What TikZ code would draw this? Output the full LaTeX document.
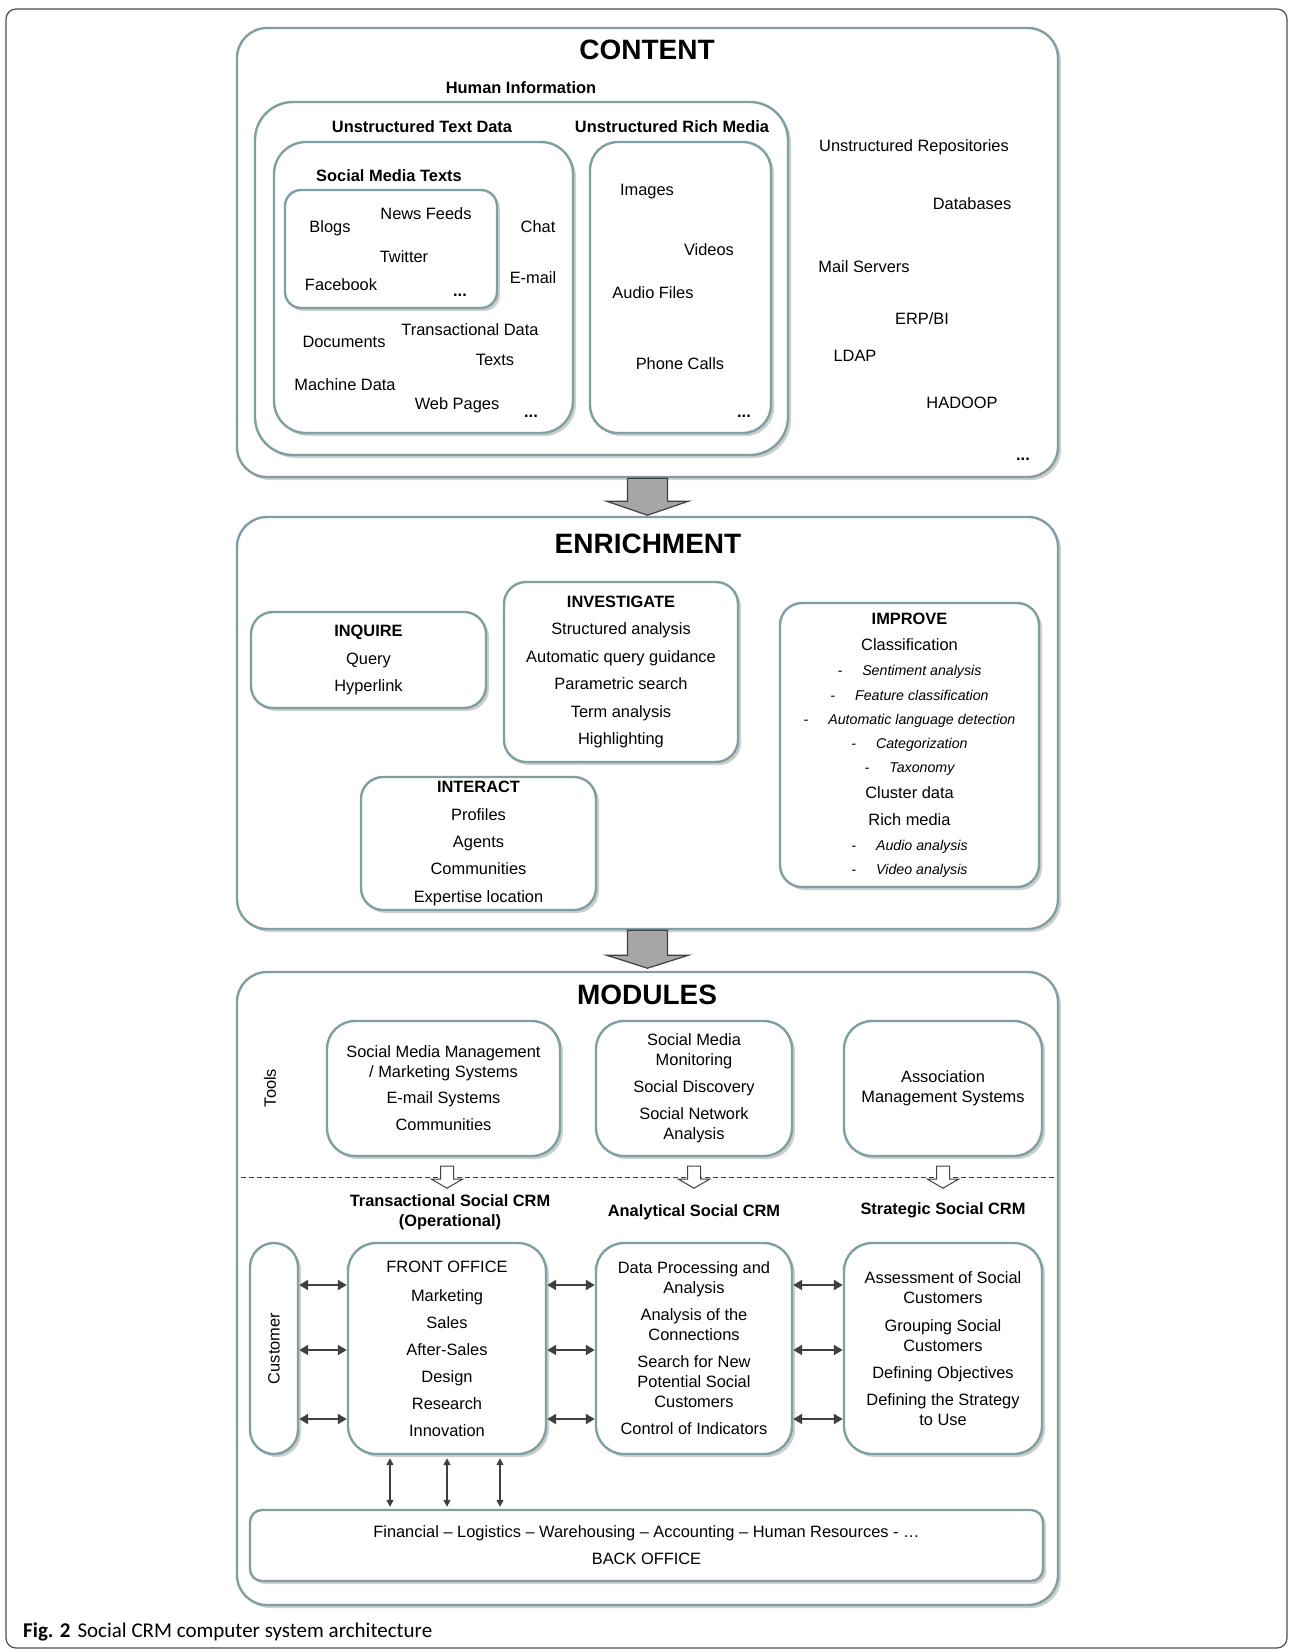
\documentclass[tikz,border=0pt]{standalone}
\usepackage{fontspec}
\setmainfont{Liberation Sans}
\newfontfamily\capfont{Carlito}
\usepackage{tikz}
\usetikzlibrary{arrows.meta,positioning,calc,shadows}
\definecolor{framegray}{HTML}{7F9FA3}
\definecolor{arrowfill}{HTML}{A6A6A6}
\definecolor{linedark}{HTML}{404040}
\definecolor{outerline}{HTML}{4D4D4D}
\newcommand{\txtfont}{\fontsize{16.4}{20}\selectfont}
\newcommand{\subfont}{\fontsize{14.2}{20}\selectfont\itshape}
\newcommand{\headfont}{\fontsize{28}{32}\selectfont\bfseries}
\tikzset{
  panel/.style={draw=framegray, line width=2.4pt, fill=white, rounded corners=30pt, inner sep=0pt, drop shadow={shadow xshift=3pt, shadow yshift=-3pt, opacity=0.38}},
  group/.style={panel, rounded corners=38pt},
  smallgroup/.style={panel, rounded corners=16pt},
  stage/.style={panel, rounded corners=22pt, align=center},
  module/.style={panel, rounded corners=28pt, align=center},
  pill/.style={panel, rounded corners=24pt},
  backbox/.style={panel, rounded corners=12pt, align=center},
  heading/.style={font=\headfont, inner sep=0pt},
  grouplabel/.style={font=\txtfont\bfseries, inner sep=0pt, align=center},
  item/.style={inner sep=0pt, text height=11.8pt, text depth=0pt},
  sidelabel/.style={inner sep=0pt, rotate=90},
  dots/.style={inner sep=0pt, font=\txtfont\bfseries},
  blockarrow/.style={fill=arrowfill, draw=linedark, line width=1.2pt, line join=miter},
  hollowarrow/.style={fill=white, draw=linedark, line width=1pt},
  dblarrow/.style={{Triangle[length=9pt,width=10pt]}-{Triangle[length=9pt,width=10pt]}, line width=2.3pt, draw=linedark},
  thinarrow/.style={{Triangle[length=7pt,width=7pt]}-{Triangle[length=7pt,width=7pt]}, line width=1.5pt, draw=linedark},
  separator/.style={draw=linedark, line width=1pt, dash pattern=on 5pt off 3pt},
  outerframe/.style={draw=outerline, line width=1.2pt, rounded corners=10pt}
}

\begin{document}
\begin{tikzpicture}[x=1pt, y=-1pt, font=\txtfont]
  \useasboundingbox (0,0) rectangle (1292,1652);
  \draw[outerframe] (6,9) rectangle (1287,1648);

  % content
  \node[panel, minimum width=821pt, minimum height=449pt] (content) at (647.5,252.5) {};
  \node[heading] (contenttitle) at (647,50) {CONTENT};
  \node[grouplabel] (humanlabel) at (521,88) {Human Information};
  \node[group, minimum width=533pt, minimum height=353pt] (human) at (521.5,278.5) {};
  \node[grouplabel] (textlabel) at (422,127) {Unstructured Text Data};
  \node[group, rounded corners=32pt, minimum width=299pt, minimum height=291pt] (textdata) at (423.5,287.5) {};
  \node[grouplabel] (smtlabel) at (389,176) {Social Media Texts};
  \node[smallgroup, minimum width=212pt, minimum height=118pt] (smtexts) at (391,249) {};
  \node[item] (blogs) at (330,227) {Blogs};
  \node[item] (newsfeeds) at (426,214) {News Feeds};
  \node[item] (twitter) at (404,257) {Twitter};
  \node[item] (facebook) at (341,285) {Facebook};
  \node[dots] (smtdots) at (460,295) {...};
  \node[item] (chat) at (538,227) {Chat};
  \node[item] (email) at (533,278) {E-mail};
  \node[item] (documents) at (344,342) {Documents};
  \node[item] (transdata) at (470,330) {Transactional Data};
  \node[item] (texts) at (495,360) {Texts};
  \node[item] (machine) at (345,385) {Machine Data};
  \node[item] (webpages) at (457,404) {Web Pages};
  \node[dots] (textdots) at (531,416) {...};
  \node[grouplabel] (richlabel) at (672,127) {Unstructured Rich Media};
  \node[group, rounded corners=28pt, minimum width=181pt, minimum height=291pt] (richmedia) at (680.5,287.5) {};
  \node[item] (images) at (647,190) {Images};
  \node[item] (videos) at (709,250) {Videos};
  \node[item] (audio) at (653,293) {Audio Files};
  \node[item] (phone) at (680,364) {Phone Calls};
  \node[dots] (richdots) at (744,416) {...};
  \node[item] (repos) at (914,146) {Unstructured Repositories};
  \node[item] (databases) at (972,204) {Databases};
  \node[item] (mail) at (864,267) {Mail Servers};
  \node[item] (erp) at (922,319) {ERP/BI};
  \node[item] (ldap) at (855,356) {LDAP};
  \node[item] (hadoop) at (962,403) {HADOOP};
  \node[dots] (repodots) at (1023,459) {...};

  % enrichment
  \node[panel, minimum width=821pt, minimum height=412pt] (enrich) at (647.5,723) {};
  \node[heading] (enrichtitle) at (648,544) {ENRICHMENT};
  \node[stage, minimum width=235pt, minimum height=96pt] (inquire) at (368.5,660) {\textbf{INQUIRE}\\[7.5pt]Query\\[7.5pt]Hyperlink};
  \node[stage, minimum width=234pt, minimum height=180pt] (investigate) at (621,672) {\textbf{INVESTIGATE}\\[7.4pt]Structured analysis\\[7.4pt]Automatic query guidance\\[7.4pt]Parametric search\\[7.4pt]Term analysis\\[7.4pt]Highlighting};
  \node[stage, minimum width=235pt, minimum height=133pt] (interact) at (478.5,843.5) {\textbf{INTERACT}\\[7.3pt]Profiles\\[7.3pt]Agents\\[7.3pt]Communities\\[7.3pt]Expertise location};
  \node[stage, minimum width=259pt, minimum height=284pt] (improve) at (909.5,745) {\textbf{IMPROVE}\\[6pt]Classification\\[5pt]
    {\subfont -\hspace{20pt}Sentiment analysis}\\[5pt]
    {\subfont -\hspace{20pt}Feature classification}\\[4pt]
    {\subfont -\hspace{20pt}Automatic language detection}\\[4pt]
    {\subfont -\hspace{20pt}Categorization}\\[4pt]
    {\subfont -\hspace{20pt}Taxonomy}\\[6pt]
    Cluster data\\[7pt]Rich media\\[5pt]
    {\subfont -\hspace{20pt}Audio analysis}\\[4pt]
    {\subfont -\hspace{20pt}Video analysis}};

  % modules
  \node[panel, minimum width=821pt, minimum height=633pt] (modules) at (647.5,1288.5) {};
  \node[heading] (modulestitle) at (647,995) {MODULES};
  \node[sidelabel] (tools) at (270,1088) {Tools};
  \node[module, minimum width=233pt, minimum height=135pt] (tool1) at (443.5,1088.5) {Social Media Management\\/ Marketing Systems\\[6pt]E-mail Systems\\[7pt]Communities};
  \node[module, minimum width=196pt, minimum height=135pt] (tool2) at (694,1088.5) {Social Media\\Monitoring\\[7pt]Social Discovery\\[7pt]Social Network\\Analysis};
  \node[module, minimum width=198pt, minimum height=135pt] (tool3) at (943,1088.5) {Association\\Management Systems};
  \draw[separator] (241,1177) -- (1057,1177);

  \node[grouplabel] (translabel) at (450,1212) {Transactional Social CRM\\(Operational)};
  \node[grouplabel] (analabel) at (694,1212) {Analytical Social CRM};
  \node[grouplabel] (stratlabel) at (943,1210) {Strategic Social CRM};

  \node[pill, minimum width=48pt, minimum height=211pt] (customer) at (274,1348.5) {};
  \node[sidelabel] (customertext) at (customer.center) {Customer};
  \node[module, minimum width=198pt, minimum height=211pt] (front) at (447,1348.5) {FRONT OFFICE\\[9pt]Marketing\\[7pt]Sales\\[7pt]After-Sales\\[7pt]Design\\[7pt]Research\\[7pt]Innovation};
  \node[module, minimum width=196pt, minimum height=211pt] (analytical) at (694,1348.5) {Data Processing and\\Analysis\\[7pt]Analysis of the\\Connections\\[7pt]Search for New\\Potential Social\\Customers\\[7pt]Control of Indicators};
  \node[module, minimum width=198pt, minimum height=211pt] (strategic) at (943,1348.5) {Assessment of Social\\Customers\\[8pt]Grouping Social\\Customers\\[7pt]Defining Objectives\\[7pt]Defining the Strategy\\to Use};
  \node[backbox, minimum width=793pt, minimum height=71pt] (back) at (646.5,1545.5) {Financial -- Logistics -- Warehousing -- Accounting -- Human Resources - \ldots\\[7pt]BACK OFFICE};

  % block arrows between layers
  \draw[blockarrow] ($(content.south)+(-20,0)$) -- ++(0,23) -- ++(-21,0) -- ++(41,14) -- ++(41,-14) -- ++(-21,0) -- ++(0,-23) -- cycle;
  \draw[blockarrow] ($(enrich.south)+(-20,0)$) -- ++(0,25) -- ++(-21,0) -- ++(41,13) -- ++(41,-13) -- ++(-21,0) -- ++(0,-25) -- cycle;

  % tools feed the crm areas
  \draw[hollowarrow] ($(tool1.south)+(-3,9)$) -- ++(0,13) -- ++(-9,0) -- ++(15.5,9) -- ++(15.5,-9) -- ++(-9,0) -- ++(0,-13) -- cycle;
  \draw[hollowarrow] ($(tool2.south)+(-6.5,9)$) -- ++(0,13) -- ++(-9,0) -- ++(15.5,9) -- ++(15.5,-9) -- ++(-9,0) -- ++(0,-13) -- cycle;
  \draw[hollowarrow] ($(tool3.south)+(-6.5,9)$) -- ++(0,13) -- ++(-9,0) -- ++(15.5,9) -- ++(15.5,-9) -- ++(-9,0) -- ++(0,-13) -- cycle;

  \draw[dblarrow] ($(customer.east)+(0,-63.5)$) -- ($(front.west)+(0,-63.5)$);
  \draw[dblarrow] ($(customer.east)+(0,1.5)$) -- ($(front.west)+(0,1.5)$);
  \draw[dblarrow] ($(customer.east)+(0,70.5)$) -- ($(front.west)+(0,70.5)$);
  \draw[dblarrow] ($(front.east)+(0,-63.5)$) -- ($(analytical.west)+(0,-63.5)$);
  \draw[dblarrow] ($(front.east)+(0,1.5)$) -- ($(analytical.west)+(0,1.5)$);
  \draw[dblarrow] ($(front.east)+(0,70.5)$) -- ($(analytical.west)+(0,70.5)$);
  \draw[dblarrow] ($(analytical.east)+(0,-63.5)$) -- ($(strategic.west)+(0,-63.5)$);
  \draw[dblarrow] ($(analytical.east)+(0,1.5)$) -- ($(strategic.west)+(0,1.5)$);
  \draw[dblarrow] ($(analytical.east)+(0,70.5)$) -- ($(strategic.west)+(0,70.5)$);

  \coordinate (fo1) at ($(front.south)+(-57,3)$);
  \coordinate (fo2) at ($(front.south)+(0,3)$);
  \coordinate (fo3) at ($(front.south)+(53,3)$);
  \draw[thinarrow] (fo1) -- ($(fo1 |- back.north)+(0,-2)$);
  \draw[thinarrow] (fo2) -- ($(fo2 |- back.north)+(0,-2)$);
  \draw[thinarrow] (fo3) -- ($(fo3 |- back.north)+(0,-2)$);

  \node[anchor=west, inner sep=0pt, font=\capfont\fontsize{21}{24}\selectfont] (caption) at (23,1632) {\textbf{Fig. 2}\hspace{7pt}Social CRM computer system architecture};
\end{tikzpicture}
\end{document}
